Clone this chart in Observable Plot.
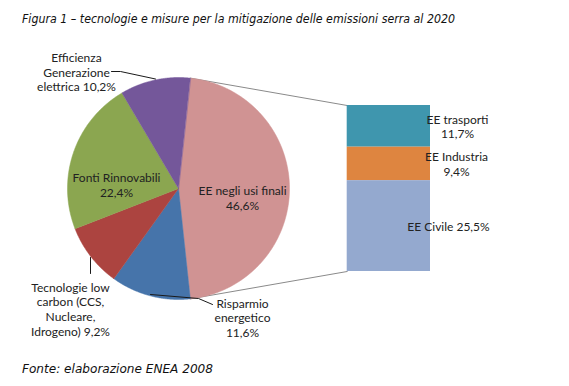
<!DOCTYPE html>
<html>
<head>
<meta charset="utf-8">
<script src="https://cdn.jsdelivr.net/npm/d3@7"></script>
<script src="https://cdn.jsdelivr.net/npm/@observablehq/plot@0.6"></script>
<style>
  html, body { margin: 0; padding: 0; background: #fff; }
  body { position: relative; width: 569px; height: 386px; overflow: hidden; }
  .note { position: absolute; left: 22px; font-family: "DejaVu Sans", Verdana, sans-serif; font-style: italic; font-size: 12px; color: #111; white-space: nowrap; transform-origin: 0 50%; line-height: 14px; }
  #title { top: 12px; }
  #caption { top: 362px; }
  #chart { position: absolute; left: 0; top: 34px; }
</style>
</head>
<body>
<div id="title" class="note">Figura 1 – tecnologie e misure per la mitigazione delle emissioni serra al 2020</div>
<div id="chart"></div>
<div id="caption" class="note">Fonte: elaborazione ENEA 2008</div>
<script>
// ---- data ----
const sliceNames = ["EE negli usi finali", "Risparmio energetico", "Tecnologie low carbon", "Fonti Rinnovabili", "Efficienza Generazione elettrica"];
const sliceValues = [46.6, 11.6, 9.2, 22.4, 10.2];
const sliceLabels = ["EE negli usi finali\n46,6%", "Risparmio\nenergetico\n11,6%", "Tecnologie low\ncarbon (CCS,\nNucleare,\nIdrogeno) 9,2%", "Fonti Rinnovabili\n22,4%", "Efficienza\nGenerazione\nelettrica 10,2%"];
const sliceColors = ["#D09393", "#4674AA", "#AC4440", "#8BA650", "#74579A"];

const barNames = ["EE trasporti", "EE Industria", "EE Civile"];
const barValues = [11.7, 9.4, 25.5];
const barLabels = ["EE trasporti\n11,7%", "EE Industria\n9,4%", "EE Civile 25,5%"];
const barColors = ["#3F96AE", "#DE8540", "#94A9CF"];

// ---- layout (pixels of the page; pie radius is the data unit) ----
const W = 569, H = 318, TOP = 34;
const CXp = 178, CYp = 188, Rp = 111;
const ux = px => (px - CXp) / Rp;
const uy = py => (CYp - py) / Rp;
const BAR_X0 = ux(346.7), BAR_X1 = ux(430);
const BAR_H = (271 - 105) / Rp;

// label anchors (page px) for slices and bar segments
const sliceLabelPos = [[242, 197], [242, 317], [70, 308.5], [116, 184.5], [76, 71.5]];
const barLabelPos = [457, 456, 448];
const leaders = [
  { name: "Efficienza", pts: [[111, 71], [120, 71], [155, 78.5]] },
  { name: "Tecnologie", pts: [[90, 257], [90, 273]] },
  { name: "Risparmio", pts: [[150, 294], [198, 298], [212, 304]] }
];

// ---- pie geometry from values ----
const total = d3.sum(sliceValues);
const rad = Math.PI / 180;
const startDeg = 90 - (sliceValues[0] / total * 360) / 2;
const piePts = [];
let acc = startDeg;
const sliceAngles = [];
sliceValues.forEach((v, i) => {
  const a0 = acc, a1 = acc + v / total * 360;
  sliceAngles.push([a0, a1]);
  piePts.push({ name: sliceNames[i], color: sliceColors[i], x: 0, y: 0 });
  const n = Math.max(2, Math.ceil((a1 - a0) / 0.5));
  for (let k = 0; k <= n; k++) {
    const t = (a0 + (a1 - a0) * k / n) * rad;
    piePts.push({ name: sliceNames[i], color: sliceColors[i], x: Math.sin(t), y: Math.cos(t) });
  }
  acc = a1;
});

// ---- bar (stack) geometry ----
const k = BAR_H / d3.sum(barValues);
let cum = 0;
const barRows = barValues.map((v, i) => {
  const y2 = BAR_H / 2 - cum * k;
  const y1 = y2 - v * k;
  cum += v;
  return { name: barNames[i], color: barColors[i], label: barLabels[i], y1, y2, x: ux(barLabelPos[i]) };
});

// connectors between pie slice and bar
const [e0, e1] = sliceAngles[0];
const connectors = [
  { name: "top", x: Math.sin(e0 * rad), y: Math.cos(e0 * rad) },
  { name: "top", x: BAR_X0, y: BAR_H / 2 },
  { name: "bottom", x: Math.sin(e1 * rad), y: Math.cos(e1 * rad) },
  { name: "bottom", x: BAR_X0, y: -BAR_H / 2 }
];

const leaderPts = leaders.flatMap(l => l.pts.map(([px, py]) => ({ name: l.name, x: ux(px), y: uy(py) })));
const sliceText = sliceLabels.map((t, i) => ({ text: t, x: ux(sliceLabelPos[i][0]), y: uy(sliceLabelPos[i][1]) }));

const font = "Lato, 'Open Sans', sans-serif";
const chart = Plot.plot({
  width: W, height: H, margin: 0,
  x: { domain: [ux(0), ux(W)], range: [0, W], axis: null },
  y: { domain: [uy(TOP + H), uy(TOP)], range: [H, 0], axis: null },
  style: { background: "transparent" },
  marks: [
    Plot.line(connectors, { x: "x", y: "y", z: "name", stroke: "#8a8a8a", strokeWidth: 1 }),
    Plot.line(piePts, { x: "x", y: "y", z: "name", fill: "color", stroke: "color", strokeWidth: 0.5, curve: "linear-closed" }),
    Plot.rect(barRows, { x1: () => BAR_X0, x2: () => BAR_X1, y1: "y1", y2: "y2", fill: "color" }),
    Plot.line(leaderPts, { x: "x", y: "y", z: "name", stroke: "#1a1a1a", strokeWidth: 1 }),
    Plot.text(sliceText, { x: "x", y: "y", text: "text", fontSize: 12, lineHeight: 1.22, fontFamily: font, fill: "#222" }),
    Plot.text(barRows, { x: "x", y: d => (d.y1 + d.y2) / 2, text: "label", fontSize: 12, lineHeight: 1.22, fontFamily: font, fill: "#222" })
  ]
});
document.getElementById("chart").appendChild(chart);

// fit italic notes to the reference widths
function fit(id, w) {
  const el = document.getElementById(id);
  const cur = el.getBoundingClientRect().width;
  el.style.transform = `scaleX(${w / cur})`;
}
fit("title", 433);
fit("caption", 191);
</script>
</body>
</html>
